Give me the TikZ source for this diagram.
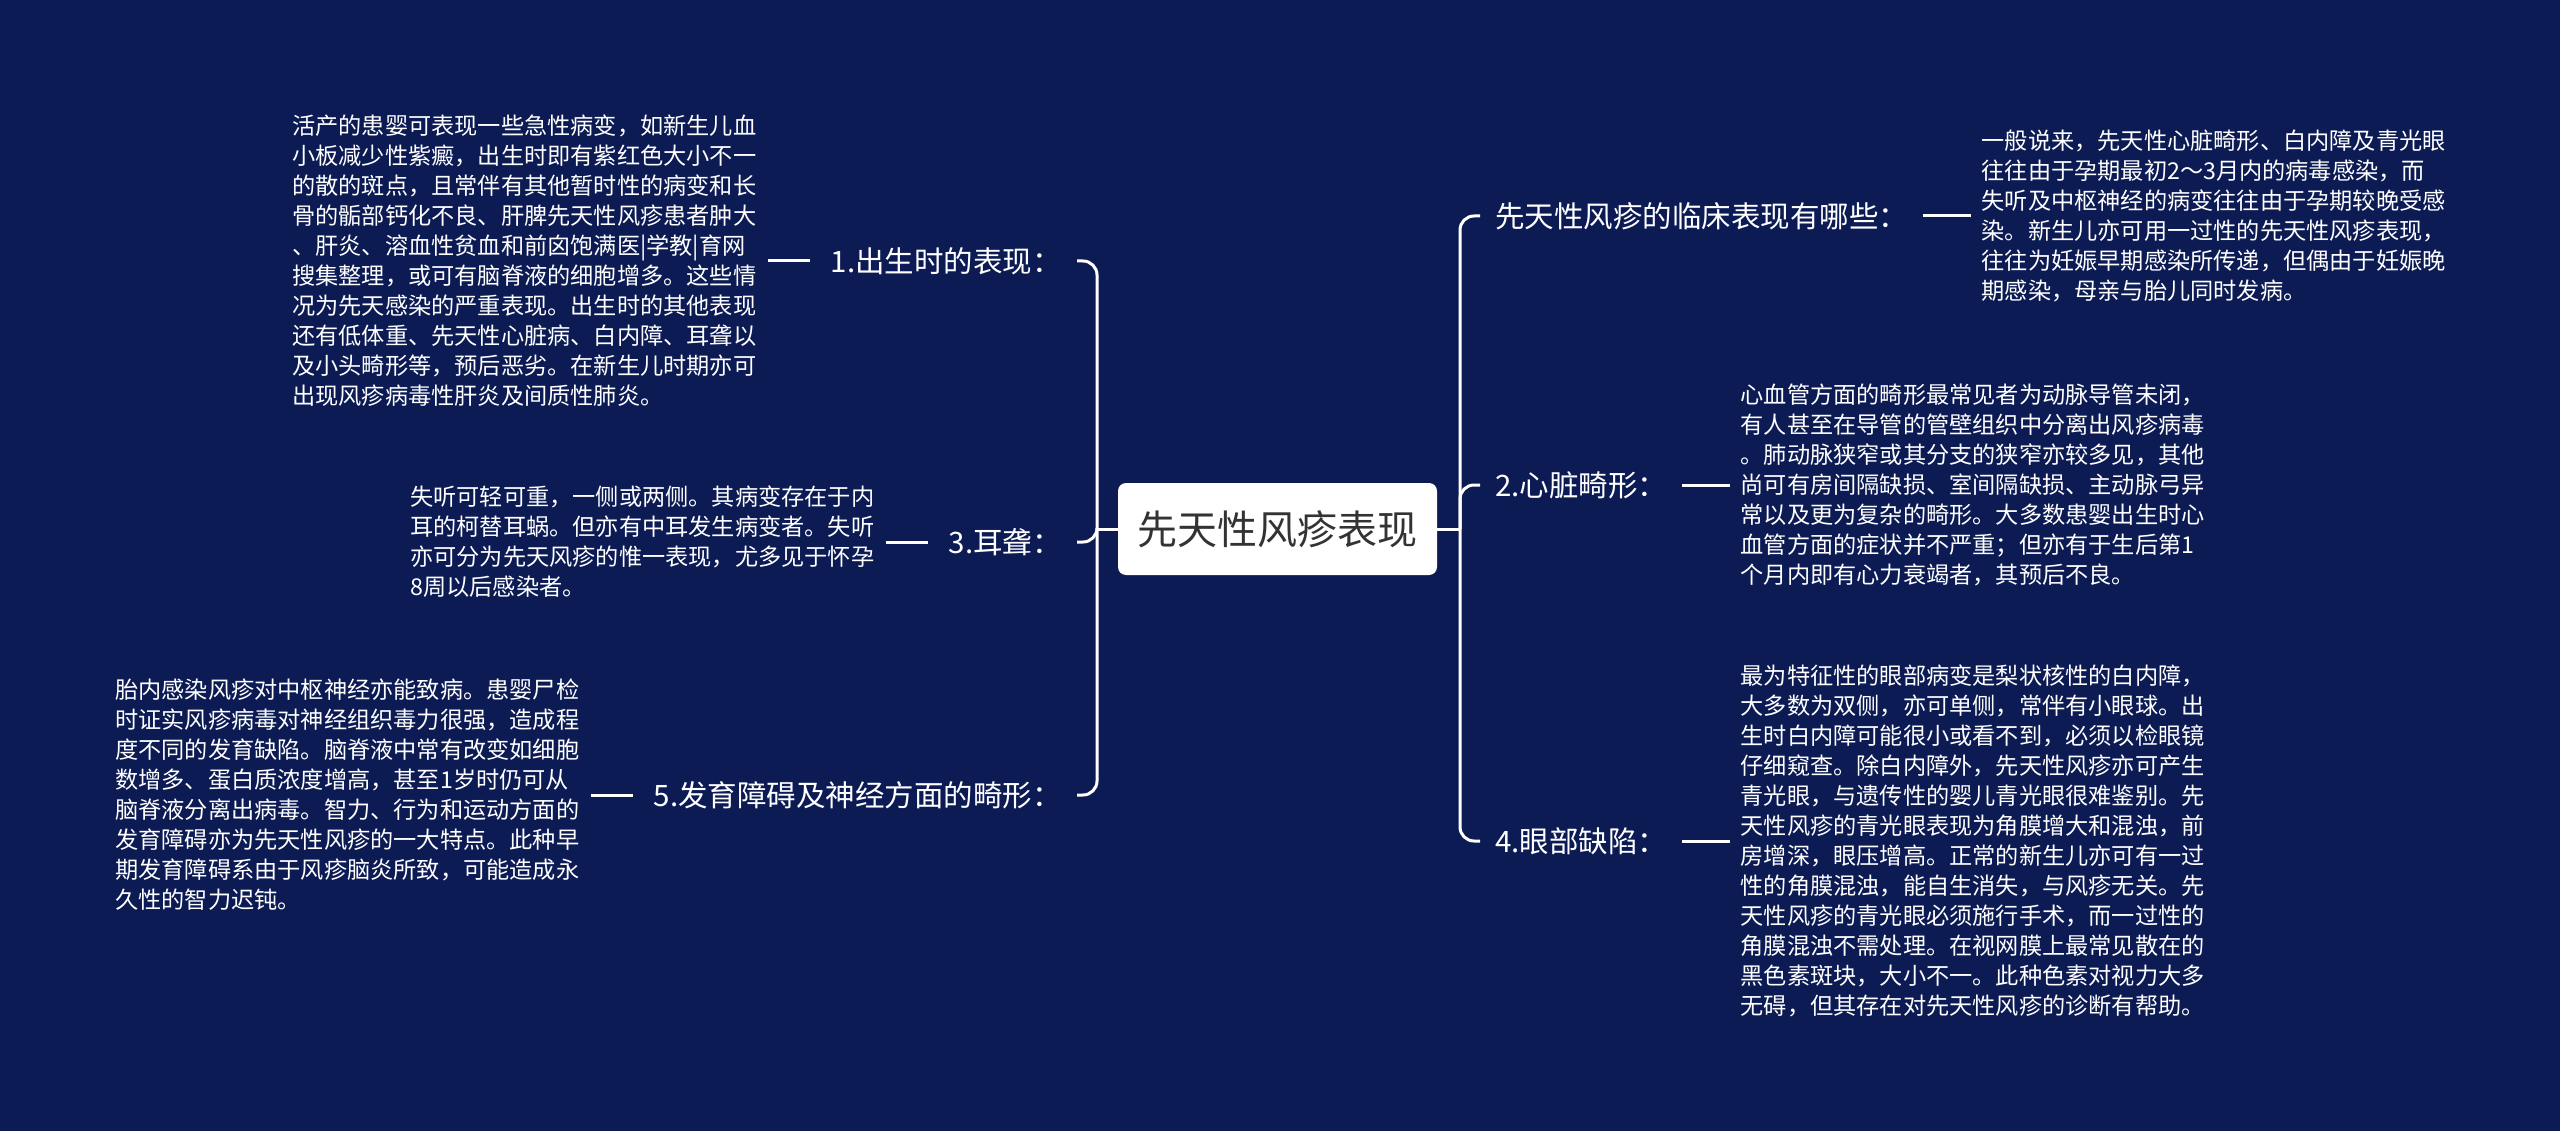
\documentclass[tikz,border=0pt]{standalone}
\usepackage{fontspec}
\newfontfamily\cjk{Noto Sans CJK SC}
\usetikzlibrary{positioning}

\definecolor{navybg}{HTML}{0C1B54}
\definecolor{rootgray}{HTML}{333333}

\tikzset{
  rootbox/.style={fill=white, text=rootgray, rounded corners=8pt,
    minimum width=319pt, minimum height=92pt,
    font=\cjk\fontsize{40}{48}\selectfont},
  branch/.style={text=white, inner xsep=15pt, inner ysep=4pt,
    font=\cjk\fontsize{29.5}{34}\selectfont},
  detail/.style={text=white, align=left, text width=465pt, inner xsep=10pt,
    font=\cjk\fontsize{23.2}{30}\selectfont},
  link/.style={draw=white, line width=3pt, rounded corners=14pt},
  stub/.style={draw=white, line width=3pt},
}

\begin{document}
\begin{tikzpicture}[x=1pt, y=-1pt]

% Background
\fill[navybg] (0,0) rectangle (2560,1131);
\useasboundingbox (0,0) rectangle (2560,1131);

% Root
\node[rootbox] (root) at (1277.5,529) {先天性风疹表现};
\coordinate (spL) at (1097,529);
\coordinate (spR) at (1460,529);

% Left branches
\node[branch, anchor=east] (b1) at (1077,261) {1.出生时的表现：};
\node[branch, anchor=east] (b3) at (1077,542) {3.耳聋：};
\node[branch, anchor=east] (b5) at (1077,795) {5.发育障碍及神经方面的畸形：};

% Right branches
\node[branch, anchor=west] (b0) at (1480,216) {先天性风疹的临床表现有哪些：};
\node[branch, anchor=west] (b2) at (1480,485) {2.心脏畸形：};
\node[branch, anchor=west] (b4) at (1480,841) {4.眼部缺陷：};

% Details
\node[detail, left=48pt of b1] (t1) {活产的患婴可表现一些急性病变，如新生儿血\\
小板减少性紫癜，出生时即有紫红色大小不一\\
的散的斑点，且常伴有其他暂时性的病变和长\\
骨的骺部钙化不良、肝脾先天性风疹患者肿大\\
、肝炎、溶血性贫血和前囟饱满医|学教|育网\\
搜集整理，或可有脑脊液的细胞增多。这些情\\
况为先天感染的严重表现。出生时的其他表现\\
还有低体重、先天性心脏病、白内障、耳聋以\\
及小头畸形等，预后恶劣。在新生儿时期亦可\\
出现风疹病毒性肝炎及间质性肺炎。};

\node[detail, left=48pt of b3] (t3) {失听可轻可重，一侧或两侧。其病变存在于内\\
耳的柯替耳蜗。但亦有中耳发生病变者。失听\\
亦可分为先天风疹的惟一表现，尤多见于怀孕\\
8周以后感染者。};

\node[detail, left=48pt of b5] (t5) {胎内感染风疹对中枢神经亦能致病。患婴尸检\\
时证实风疹病毒对神经组织毒力很强，造成程\\
度不同的发育缺陷。脑脊液中常有改变如细胞\\
数增多、蛋白质浓度增高，甚至1岁时仍可从\\
脑脊液分离出病毒。智力、行为和运动方面的\\
发育障碍亦为先天性风疹的一大特点。此种早\\
期发育障碍系由于风疹脑炎所致，可能造成永\\
久性的智力迟钝。};

\node[detail, right=48pt of b0] (t0) {一般说来，先天性心脏畸形、白内障及青光眼\\
往往由于孕期最初2～3月内的病毒感染，而\\
失听及中枢神经的病变往往由于孕期较晚受感\\
染。新生儿亦可用一过性的先天性风疹表现，\\
往往为妊娠早期感染所传递，但偶由于妊娠晚\\
期感染，母亲与胎儿同时发病。};

\node[detail, right=48pt of b2] (t2) {心血管方面的畸形最常见者为动脉导管未闭，\\
有人甚至在导管的管壁组织中分离出风疹病毒\\
。肺动脉狭窄或其分支的狭窄亦较多见，其他\\
尚可有房间隔缺损、室间隔缺损、主动脉弓异\\
常以及更为复杂的畸形。大多数患婴出生时心\\
血管方面的症状并不严重；但亦有于生后第1\\
个月内即有心力衰竭者，其预后不良。};

\node[detail, right=48pt of b4] (t4) {最为特征性的眼部病变是梨状核性的白内障，\\
大多数为双侧，亦可单侧，常伴有小眼球。出\\
生时白内障可能很小或看不到，必须以检眼镜\\
仔细窥查。除白内障外，先天性风疹亦可产生\\
青光眼，与遗传性的婴儿青光眼很难鉴别。先\\
天性风疹的青光眼表现为角膜增大和混浊，前\\
房增深，眼压增高。正常的新生儿亦可有一过\\
性的角膜混浊，能自生消失，与风疹无关。先\\
天性风疹的青光眼必须施行手术，而一过性的\\
角膜混浊不需处理。在视网膜上最常见散在的\\
黑色素斑块，大小不一。此种色素对视力大多\\
无碍，但其存在对先天性风疹的诊断有帮助。};

% Connectors
\draw[stub] (root.west) -- (spL);
\draw[stub] (root.east) -- (spR);
\foreach \b in {b1,b3,b5} {
  \draw[link] (spL) |- (\b.east);
}
\foreach \b in {b0,b2,b4} {
  \draw[link] (spR) |- (\b.west);
}
\draw[stub, shorten >=6pt] (t1.east) -- (b1.west);
\draw[stub, shorten >=6pt] (t3.east) -- (b3.west);
\draw[stub, shorten >=6pt] (t5.east) -- (b5.west);
\draw[stub] (b0.east) -- (t0.west);
\draw[stub] (b2.east) -- (t2.west);
\draw[stub] (b4.east) -- (t4.west);

\end{tikzpicture}
\end{document}
